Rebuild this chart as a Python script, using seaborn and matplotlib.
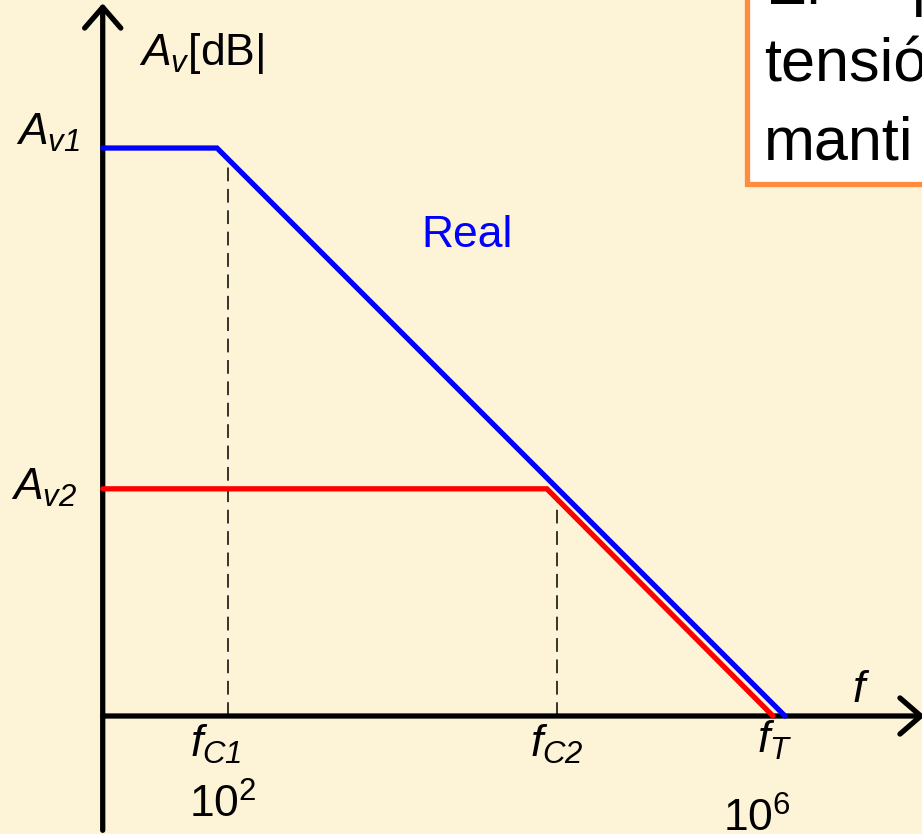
import numpy as np
import pandas as pd
import matplotlib
import matplotlib.pyplot as plt
import seaborn as sns
from matplotlib.patches import Rectangle

# frequency response (log f in Hz, gain in dB)
real_freq = [12.6, 83.4, 1.0e6]
real_gain = [80, 80, 0]
ideal_freq = [12.6, 1.95e4, 8.2e5]
ideal_gain = [32, 32, 0]
corner_freq = [100, 2.3e4]
corner_gain = [78.4, 30.6]
f_start = 12.6
f_axis_end = 1.01e7

bg = '#FDF3D7'
orange = '#FF8C3C'

sns.set_theme(style='white')
plt.rcParams['font.family'] = ['Liberation Sans', 'DejaVu Sans']
plt.rcParams['text.color'] = 'black'
plt.rcParams['mathtext.fontset'] = 'custom'
plt.rcParams['mathtext.rm'] = 'Liberation Sans'
plt.rcParams['mathtext.it'] = 'Liberation Sans:italic'
plt.rcParams['mathtext.sf'] = 'Liberation Sans:italic'
plt.rcParams['mathtext.bf'] = 'Liberation Sans:bold'

df = pd.concat([
    pd.DataFrame({'f': real_freq, 'gain': real_gain, 'curve': 'Real'}),
    pd.DataFrame({'f': ideal_freq, 'gain': ideal_gain, 'curve': 'Ideal'}),
])

fig = plt.figure(figsize=(9.22, 8.34), dpi=100, facecolor=bg)
ax = fig.add_axes([0, 0, 1, 1])
ax.set_facecolor(bg)
ax.set_xscale('log')

# dashed corner markers
for fc, g in zip(corner_freq, corner_gain):
    ax.plot([fc, fc], [0, g], color='black', lw=1.1, dashes=(9, 5), zorder=2)

sns.lineplot(data=df, x='f', y='gain', hue='curve', units='curve', estimator=None,
             sort=False, palette={'Real': '#0000FF', 'Ideal': '#FF0000'},
             hue_order=['Ideal', 'Real'], lw=3.8, legend=False, ax=ax, zorder=4)
for ln in ax.lines[-2:]:
    ln.set_solid_capstyle('round')
    ln.set_solid_joinstyle('miter')

ax.set_xlim(10 ** 0.3627, 10 ** 6.984)
ax.set_ylim(-16.62, 100.85)
ax.axis('off')

# axes with open arrow heads
arrow = dict(arrowstyle='->,head_length=0.75,head_width=0.65', lw=3.8,
             color='black', shrinkA=0, shrinkB=0, mutation_scale=20)
ax.annotate('', xy=(f_start, 100.4), xytext=(f_start, -16.1), arrowprops=arrow,
            annotation_clip=False, zorder=3)
ax.annotate('', xy=(f_axis_end, 0), xytext=(f_start, 0), arrowprops=arrow,
            annotation_clip=False, zorder=3)

fs = 32
off = dict(textcoords='offset pixels', va='baseline', fontsize=fs, annotation_clip=False)
ax.annotate(r'$A_{\mathsf{v1}}$', xy=(f_start, real_gain[0]), xytext=(-23, 3), ha='right', **off)
ax.annotate(r'$A_{\mathsf{v2}}$', xy=(f_start, ideal_gain[0]), xytext=(-25, -11), ha='right', **off)
ax.annotate(r'$f_{\mathsf{C1}}$', xy=(corner_freq[0], 0), xytext=(-12, -41), ha='center', **off)
ax.annotate(r'10$^2$', xy=(corner_freq[0], 0), xytext=(-5, -102), ha='center', **off)
ax.annotate(r'$f_{\mathsf{C2}}$', xy=(corner_freq[1], 0), xytext=(0, -41), ha='center', **off)
ax.annotate(r'$f_{\mathsf{T}}$', xy=(real_freq[-1], 0), xytext=(-10, -37), ha='center', **off)
ax.annotate(r'10$^6$', xy=(real_freq[-1], 0), xytext=(-28, -116), ha='center', **off)


def fx(px):
    return px / 922


def fy(py):
    return 1 - py / 834


fig.text(fx(852), fy(702), r'$f$', fontsize=fs, va='baseline')
fig.text(fx(139), fy(65), r'$A_v$[dB|', fontsize=fs, va='baseline')
fig.text(fx(421), fy(247), 'Real', fontsize=fs, color='#0000FF', va='baseline')

# note box in the top right corner, cut off by the frame
fig.patches.append(Rectangle((fx(747), fy(184)), 0.4, 0.4, transform=fig.transFigure,
                             facecolor='white', edgecolor=orange, lw=3.8, zorder=5))
bfs = 44
fig.text(fx(766), fy(4), 'El', fontsize=bfs, va='baseline', zorder=6)
fig.text(fx(911), fy(4), 'p', fontsize=bfs, va='baseline', zorder=6)
fig.text(fx(764), fy(82), 'tensió', fontsize=bfs, va='baseline', zorder=6)
fig.text(fx(764), fy(160), 'manti', fontsize=bfs, va='baseline', zorder=6)

fig.savefig('out.png', dpi=100, facecolor=bg)
